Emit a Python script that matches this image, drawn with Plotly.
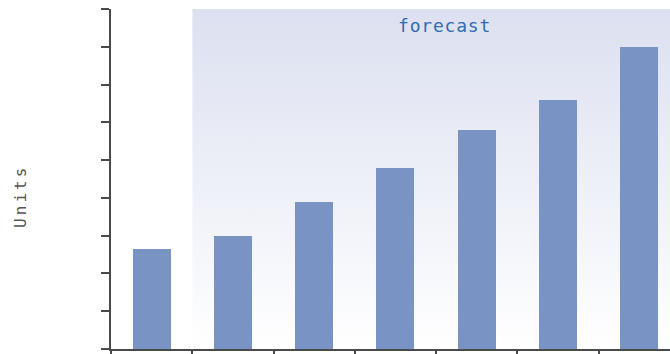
import base64
import plotly.graph_objects as go

# ---- data ----
periods = [0, 1, 2, 3, 4, 5, 6]
units = [2.66, 2.98, 3.88, 4.78, 5.79, 6.59, 7.99]
y_ticks = [0, 1, 2, 3, 4, 5, 6, 7, 8, 9]
forecast_from = 1          # first forecast period index
forecast_label = "forecast"
y_title = "Units"

# ---- styling ----
bar_color = "#7a93c5"
axis_color = "#4a4a4a"
grad_top = "#dce0f0"
grad_bottom = "#ffffff"

y_max = y_ticks[-1]
x_lo = periods[0] - 0.5
x_hi = periods[-1] + 0.38
boundaries = [p - 0.5 for p in periods]

svg = (
    '<svg xmlns="http://www.w3.org/2000/svg" width="100" height="100" '
    'viewBox="0 0 100 100" preserveAspectRatio="none">'
    '<defs><linearGradient id="g" x1="0" y1="0" x2="0" y2="1">'
    f'<stop offset="0" stop-color="{grad_top}"/>'
    f'<stop offset="1" stop-color="{grad_bottom}"/>'
    '</linearGradient></defs>'
    '<rect x="0" y="0" width="100" height="100" fill="url(#g)"/></svg>'
)
svg_uri = "data:image/svg+xml;base64," + base64.b64encode(svg.encode()).decode()

fig = go.Figure()
fig.add_trace(go.Bar(
    x=periods, y=units, width=0.47,
    marker=dict(color=bar_color, line=dict(width=0)),
    hoverinfo="skip", showlegend=False,
))

fig.add_layout_image(dict(
    source=svg_uri, xref="x", yref="y",
    x=forecast_from - 0.5, y=y_max,
    sizex=x_hi - (forecast_from - 0.5), sizey=y_max,
    xanchor="left", yanchor="top", sizing="stretch", layer="below",
))

fig.add_annotation(
    x=3.61, y=0.988, xref="x", yref="paper",
    text=f'<span style="letter-spacing:0.8px">{forecast_label}</span>',
    showarrow=False, yanchor="top", xanchor="center",
    font=dict(family="DejaVu Sans Mono", size=18, color="#2f6db4"),
)
fig.add_annotation(
    x=-0.163, y=0.45, xref="paper", yref="paper",
    text=f'<span style="letter-spacing:3px">{y_title}</span>',
    showarrow=False, textangle=-90, xanchor="center", yanchor="middle",
    font=dict(family="DejaVu Sans Mono", size=16, color="#555555"),
)

fig.update_layout(
    width=670, height=354,
    margin=dict(l=111, r=0, t=9, b=5),
    paper_bgcolor="white", plot_bgcolor="white",
    bargap=0,
)
fig.update_xaxes(
    range=[x_lo, x_hi], tickvals=boundaries, showticklabels=False,
    ticks="outside", ticklen=6, tickwidth=2, tickcolor=axis_color,
    showline=True, linecolor=axis_color, linewidth=2,
    showgrid=False, zeroline=False,
)
fig.update_yaxes(
    range=[0, y_max], tickvals=y_ticks, showticklabels=False,
    ticks="outside", ticklen=8, tickwidth=2, tickcolor=axis_color,
    showline=True, linecolor=axis_color, linewidth=2,
    showgrid=False, zeroline=False,
)

fig.write_html("out.html")
